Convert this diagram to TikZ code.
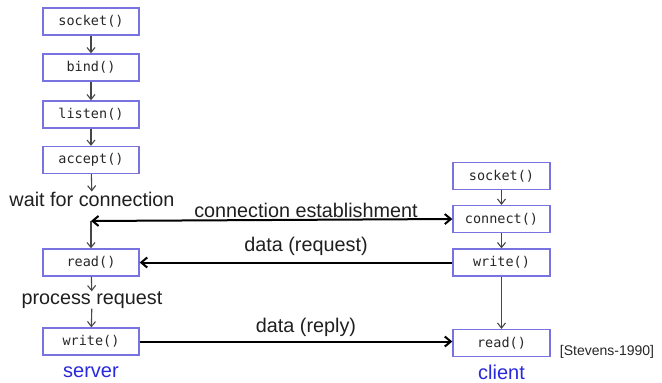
\documentclass[tikz,border=0pt]{standalone}
\usepackage{fontspec}
\setmainfont{Liberation Sans}
\newfontfamily\codefont{DejaVu Sans Mono}
\usetikzlibrary{arrows.meta}
\definecolor{boxblue}{RGB}{120,115,225}
\definecolor{lblblue}{RGB}{40,40,220}
\definecolor{vgray}{RGB}{70,70,70}
\tikzset{
  fn/.style={draw=boxblue, line width=1.3pt, minimum width=96pt, minimum height=27pt, inner sep=0pt, font=\codefont\fontsize{13.5}{15}\selectfont, text=black!85},
  lbl/.style={font=\fontsize{19.8}{22}\selectfont, inner sep=0pt, text=black!88},
  side/.style={font=\fontsize{20}{22}\selectfont, inner sep=0pt, text=lblblue},
  varr/.style={draw=vgray, line width=1.1pt, -{Straight Barb[length=5pt,width=8pt]}},
  harr/.style={draw=black, line width=2pt, -{Straight Barb[length=6pt,width=10pt]}},
}
\begin{document}
\begin{tikzpicture}[x=1pt,y=-1pt]
\useasboundingbox (0,0) rectangle (662,383);
% server
\node[fn] (ssock) at (91,21.5) {socket()};
\node[fn] (sbind) at (91,67.5) {bind()};
\node[fn] (slist) at (91,114.5) {listen()};
\node[fn] (sacc)  at (91,160) {accept()};
\node[lbl] (wait) at (92,199) {wait for connection};
\coordinate (junc) at (91,221);
\node[fn] (sread) at (91,262.5) {read()};
\node[lbl] (proc) at (92,300) {process request};
\node[fn] (swrite) at (91,341.5) {write()};
\node[side] (server) at (91,372) {server};
% client
\node[fn, minimum width=97pt] (csock) at (501.5,176) {socket()};
\node[fn, minimum width=97pt] (cconn) at (501.5,219) {connect()};
\node[fn, minimum width=97pt] (cwrite) at (501.5,262.5) {write()};
\node[fn, minimum width=97pt] (cread) at (501.5,343) {read()};
\node[side] (client) at (501.5,372) {client};
\node[font=\fontsize{14}{16}\selectfont, inner sep=0pt, text=black!85] (ref) at (607,352) {[Stevens-1990]};
% vertical arrows
\draw[varr] (ssock) -- (sbind);
\draw[varr] (sbind) -- (slist);
\draw[varr] (slist) -- (sacc);
\draw[varr] (sacc) -- (wait);
\draw[varr] (junc) -- (sread);
\draw[varr] (sread) -- (proc);
\draw[varr] (proc) -- (swrite);
\draw[varr] (csock) -- (cconn);
\draw[varr] (cconn) -- (cwrite);
\draw[varr] (cwrite) -- (cread);
% horizontal arrows
\draw[harr, {Straight Barb[length=6pt,width=10pt]}-{Straight Barb[length=6pt,width=10pt]}] (junc) -- (cconn.west);
\draw[harr] (cwrite.west) -- (sread.east);
\draw[harr] (swrite.east) -- (cread.west |- swrite.east);
% labels
\node[lbl] (l1) at (306,210) {connection establishment};
\node[lbl] (l2) at (306,246) {data (request)};
\node[lbl] (l3) at (306,327) {data (reply)};
\end{tikzpicture}
\end{document}
